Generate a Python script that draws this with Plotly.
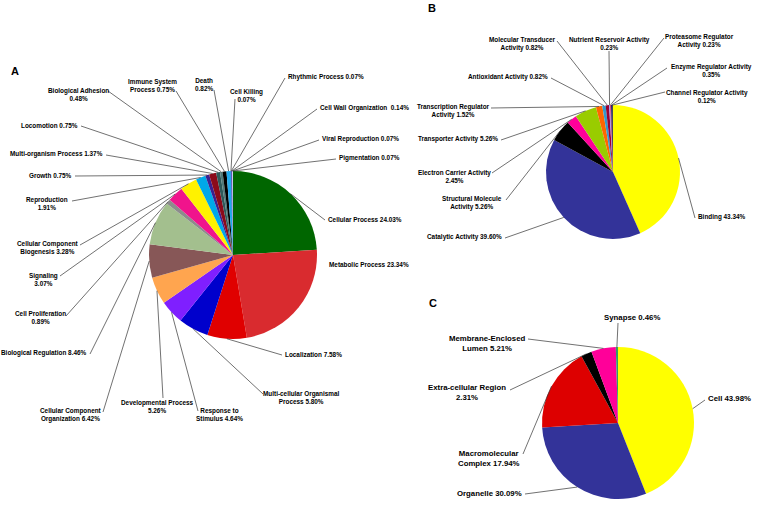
import math
import plotly.graph_objects as go

W, H = 774, 514

# ---------------- Data ----------------
# A: Biological process (clockwise from 12 o'clock)
bp_labels = ["Cellular Process", "Metabolic Process", "Localization",
             "Multi-cellular Organismal Process", "Response to Stimulus",
             "Developmental Process", "Cellular Component Organization",
             "Biological Regulation", "Cell Proliferation", "Signaling",
             "Cellular Component Biogenesis", "Reproduction", "Growth",
             "Multi-organism Process", "Locomotion", "Biological Adhesion",
             "Immune System Process", "Death", "Cell Killing", "Rhythmic Process",
             "Cell Wall Organization", "Viral Reproduction", "Pigmentation"]
bp_values = [24.03, 23.34, 7.58, 5.80, 4.64, 5.26, 6.42, 8.46, 0.89, 3.07,
             3.28, 1.91, 0.75, 1.37, 0.75, 0.48, 0.75, 0.82, 0.07, 0.07,
             0.14, 0.07, 0.07]
bp_colors = ["#006600", "#d92b2f", "#e00000", "#0000cc", "#7f1fff",
             "#ffa54f", "#875757", "#a3bf8e", "#8c8c8c", "#f0148c",
             "#fff200", "#00a8e8", "#3b1f8f", "#8b0a1a", "#2e5a5a",
             "#4f7a7a", "#000000", "#1eaaee", "#1f1f99", "#2a2aa0",
             "#1a1a8c", "#ccccff", "#e4e4ff"]

# B: Molecular function
mf_labels = ["Binding", "Catalytic Activity", "Structural Molecule Activity",
             "Electron Carrier Activity", "Transporter Activity",
             "Transcription Regulator Activity", "Antioxidant Activity",
             "Molecular Transducer Activity", "Nutrient Reservoir Activity",
             "Proteasome Regulator Activity", "Enzyme Regulator Activity",
             "Channel Regulator Activity"]
mf_values = [43.34, 39.60, 5.26, 2.45, 5.26, 1.52, 0.82, 0.82, 0.23, 0.23, 0.35, 0.12]
mf_colors = ["#ffff00", "#333399", "#000000", "#ff0099", "#99cc00", "#ff6600",
             "#3399cc", "#990033", "#9999ff", "#cc3366", "#1a1a66", "#000000"]

# C: Cellular component
cc_labels = ["Cell", "Organelle", "Macromolecular Complex", "Extra-cellular Region",
             "Membrane-Enclosed Lumen", "Synapse"]
cc_values = [43.98, 30.09, 17.94, 2.31, 5.21, 0.46]
cc_colors = ["#ffff00", "#333399", "#dd0000", "#000000", "#ff0099", "#339966"]

# ---------------- Layout of labels (text template, x, y, anchor, line start) ----------------
bp_layout = {
    "Cellular Process": ("Cellular Process {v}", 327, 219, "left", (325, 220)),
    "Metabolic Process": ("Metabolic Process {v}", 328, 264, "left", None),
    "Localization": ("Localization {v}", 284, 354, "left", (282, 355)),
    "Multi-cellular Organismal Process": ("Multi-cellular Organismal<br>Process {v}", 301, 397, "center", (263, 394)),
    "Response to Stimulus": ("Response to<br>Stimulus {v}", 219, 414, "center", (198, 411)),
    "Developmental Process": ("Developmental Process<br>{v}", 157, 406, "center", (163, 398)),
    "Cellular Component Organization": ("Cellular Component<br>Organization {v}", 71, 415, "center", (103, 412)),
    "Biological Regulation": ("Biological Regulation {v}", 88, 353, "right", (90, 354)),
    "Cell Proliferation": ("Cell Proliferation<br>{v}", 40, 317, "center", (66, 316)),
    "Signaling": ("Signaling<br>{v}", 43, 279, "center", (60, 276)),
    "Cellular Component Biogenesis": ("Cellular Component<br>Biogenesis {v}", 48, 248, "center", (80, 245)),
    "Reproduction": ("Reproduction<br>{v}", 47, 204, "center", (72, 201)),
    "Growth": ("Growth {v}", 73, 175, "right", (75, 176)),
    "Multi-organism Process": ("Multi-organism Process {v}", 104, 154, "right", (106, 155)),
    "Locomotion": ("Locomotion {v}", 79, 125, "right", (81, 126)),
    "Biological Adhesion": ("Biological Adhesion<br>{v}", 78, 94, "center", (108, 91)),
    "Immune System Process": ("Immune System<br>Process {v}", 152, 86, "center", (176, 91)),
    "Death": ("Death<br>{v}", 204, 85, "center", (214, 90)),
    "Cell Killing": ("Cell Killing<br>{v}", 246, 95, "center", (235, 99)),
    "Rhythmic Process": ("Rhythmic Process {v}", 287, 77, "left", (285, 78)),
    "Cell Wall Organization": ("Cell Wall Organization  {v}", 319, 108, "left", (317, 109)),
    "Viral Reproduction": ("Viral Reproduction {v}", 321, 139, "left", (319, 140)),
    "Pigmentation": ("Pigmentation {v}", 338, 158, "left", (336, 159)),
}
mf_layout = {
    "Binding": ("Binding {v}", 697, 217, "left", (695, 218)),
    "Catalytic Activity": ("Catalytic Activity {v}", 503, 237, "right", (505, 238)),
    "Structural Molecule Activity": ("Structural Molecule<br>Activity {v}", 472, 203, "center", (506, 200)),
    "Electron Carrier Activity": ("Electron Carrier Activity<br>{v}", 454, 176, "center", (492, 173)),
    "Transporter Activity": ("Transporter Activity {v}", 499, 139, "right", (501, 140)),
    "Transcription Regulator Activity": ("Transcription Regulator<br>Activity {v}", 453, 111, "center", (491, 108)),
    "Antioxidant Activity": ("Antioxidant Activity {v}", 549, 77, "right", (551, 78)),
    "Molecular Transducer Activity": ("Molecular Transducer<br>Activity {v}", 522, 44, "center", (557, 41)),
    "Nutrient Reservoir Activity": ("Nutrient Reservoir Activity<br>{v}", 609, 43, "center", (609, 51)),
    "Proteasome Regulator Activity": ("Proteasome Regulator<br>Activity {v}", 699, 41, "center", (664, 38)),
    "Enzyme Regulator Activity": ("Enzyme Regulator Activity<br>{v}", 711, 71, "center", (667, 68)),
    "Channel Regulator Activity": ("Channel Regulator Activity<br>{v}", 707, 96, "center", (665, 92)),
}
cc_layout = {
    "Cell": ("Cell {v}", 707, 398, "left", (705, 400)),
    "Organelle": ("Organelle {v}", 523, 493, "right", (525, 494)),
    "Macromolecular Complex": ("Macromolecular<br>Complex {v}", 489, 458, "center", (523, 454)),
    "Extra-cellular Region": ("Extra-cellular Region<br>{v}", 467, 392, "center", (510, 390)),
    "Membrane-Enclosed Lumen": ("Membrane-Enclosed<br>Lumen {v}", 487, 343, "center", (528, 339)),
    "Synapse": ("Synapse {v}", 632, 317, "center", (618, 323)),
}

FONT = "Liberation Sans, Arial, sans-serif"

fig = go.Figure()
shapes = []
annotations = []


def add_pie(labels, values, colors, cx, cy, r, layout, fsize):
    fig.add_trace(go.Pie(
        labels=labels, values=values, sort=False, direction="clockwise", rotation=0,
        marker=dict(colors=colors, line=dict(width=0)), textinfo="none",
        hoverinfo="label+percent", showlegend=False,
        domain=dict(x=[(cx - r) / W, (cx + r) / W], y=[1 - (cy + r) / H, 1 - (cy - r) / H]),
    ))
    total = sum(values)
    cum = 0.0
    for lab, val in zip(labels, values):
        mid = (cum + val / 2) / total * 2 * math.pi
        cum += val
        tx = cx + r * math.sin(mid)
        ty = cy - r * math.cos(mid)
        tmpl, lx, ly, anchor, start = layout[lab]
        text = "<b>" + tmpl.format(v=f"{val:.2f}%").replace("<br>", "</b><br><b>") + "</b>"
        annotations.append(dict(
            text=text, x=lx / W, y=1 - ly / H, xref="paper", yref="paper",
            xanchor=anchor, yanchor="middle", align="center", showarrow=False,
            font=dict(family=FONT, size=fsize, color="#000000"), borderpad=0,
        ))
        if start is not None:
            shapes.append(dict(
                type="line", xref="paper", yref="paper",
                x0=start[0] / W, y0=1 - start[1] / H, x1=tx / W, y1=1 - ty / H,
                line=dict(color="#333333", width=0.7),
            ))


add_pie(bp_labels, bp_values, bp_colors, 233, 255, 84, bp_layout, 6.4)
add_pie(mf_labels, mf_values, mf_colors, 613, 172, 67, mf_layout, 6.4)
add_pie(cc_labels, cc_values, cc_colors, 618, 423, 76, cc_layout, 7.8)

for letter, x, y in [("A", 15, 71), ("B", 432, 8), ("C", 433, 303)]:
    annotations.append(dict(
        text=f"<b>{letter}</b>", x=x / W, y=1 - y / H, xref="paper", yref="paper",
        xanchor="center", yanchor="middle", showarrow=False,
        font=dict(family="Liberation Sans, Arial, sans-serif", size=11, color="#000000"),
    ))

fig.update_layout(
    width=W, height=H, margin=dict(l=0, r=0, t=0, b=0),
    paper_bgcolor="white", plot_bgcolor="white",
    shapes=shapes, annotations=annotations, showlegend=False,
)

fig.write_html("out.html", config={"displayModeBar": False},
               post_script="document.body.style.margin='0';")
